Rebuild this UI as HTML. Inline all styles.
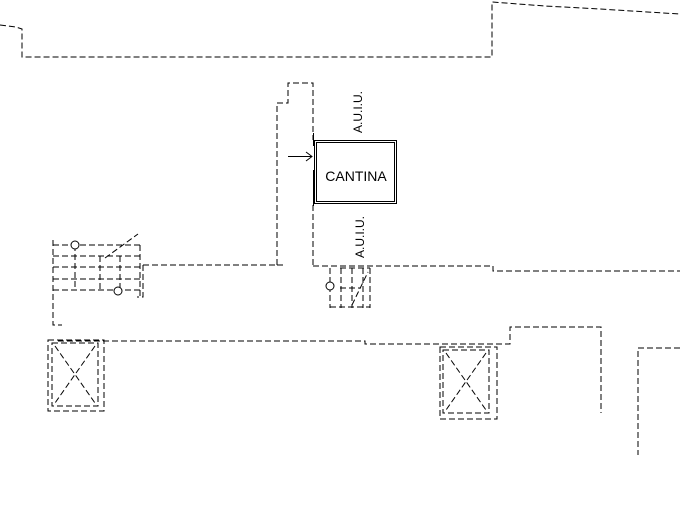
<!DOCTYPE html>
<html><head><meta charset="utf-8"><style>
html,body{margin:0;padding:0;background:#fff;}
svg{display:block}
</style></head><body>
<svg width="680" height="513" viewBox="0 0 680 513" xmlns="http://www.w3.org/2000/svg">
<g fill="none" stroke="#000" stroke-width="1" stroke-dasharray="6,3">
<polyline points="0,25 16,27 22,29 22,57 492,57 492,2 545,6 600,9 680,14"/>
<polyline points="277,265 277,103 288,103 288,83 313,83 313,140"/>
<polyline points="313,205 313,265"/>
<line x1="277" y1="265" x2="284" y2="265"/>
<polyline points="313,266 493,266 493,271 680,271"/>
<line x1="143" y1="265" x2="277" y2="265"/>
<polyline points="53,240 53,325 62,325"/>
<line x1="53" y1="245" x2="140" y2="245"/>
<line x1="53" y1="256" x2="140" y2="256"/>
<line x1="53" y1="267" x2="140" y2="267"/>
<line x1="53" y1="279" x2="140" y2="279"/>
<line x1="53" y1="290" x2="140" y2="290"/>
<line x1="140" y1="245" x2="140" y2="297"/>
<polyline points="143,265 143,297 137,297"/>
<line x1="75" y1="245" x2="75" y2="290"/>
<line x1="100" y1="256" x2="100" y2="290"/>
<line x1="120" y1="256" x2="120" y2="290"/>
<line x1="105" y1="258" x2="138" y2="234"/>
<polyline points="58,341 365,341 365,344 510,344 510,327 601,327 601,413"/>
<rect x="52" y="343" width="46" height="63"/>
<rect x="48" y="340" width="56" height="71"/>
<line x1="55" y1="346" x2="95" y2="403"/>
<line x1="95" y1="346" x2="55" y2="403"/>
<rect x="443" y="350" width="46" height="63"/>
<rect x="440" y="347" width="57" height="72"/>
<line x1="446" y1="353" x2="486" y2="410"/>
<line x1="486" y1="353" x2="446" y2="410"/>
<polyline points="680,348 638,348 638,455"/>
<line x1="330" y1="268" x2="330" y2="308"/>
<line x1="341" y1="268" x2="341" y2="308"/>
<line x1="352" y1="268" x2="352" y2="308"/>
<line x1="363" y1="268" x2="363" y2="308"/>
<line x1="370" y1="268" x2="370" y2="308"/>
<line x1="340" y1="268" x2="370" y2="268"/>
<line x1="330" y1="307" x2="370" y2="307"/>
<line x1="340" y1="288" x2="360" y2="288"/>
<line x1="352" y1="305" x2="368" y2="272"/>
</g>
<g fill="none" stroke="#000" stroke-width="1">
<circle cx="75" cy="245" r="4" fill="#fff"/>
<circle cx="118" cy="291" r="4" fill="#fff"/>
<circle cx="330" cy="286" r="4" fill="#fff"/>
<rect x="314.5" y="140.5" width="82" height="63"/>
<rect x="316.5" y="142.5" width="78" height="59"/>
<line x1="313.5" y1="133" x2="313.5" y2="146"/>
<line x1="313.5" y1="170" x2="313.5" y2="206"/>
<line x1="288" y1="156.5" x2="312" y2="156.5"/>
<polyline points="306,152 312,156.5 306,161"/>
</g>
<text x="356" y="181" font-family="Liberation Sans, sans-serif" font-size="14" text-anchor="middle">CANTINA</text>
<text transform="translate(362,133) rotate(-90)" font-family="Liberation Sans, sans-serif" font-size="12">A.U.I.U.</text>
<text transform="translate(364,258) rotate(-90)" font-family="Liberation Sans, sans-serif" font-size="12">A.U.I.U.</text>
</svg>
</body></html>
